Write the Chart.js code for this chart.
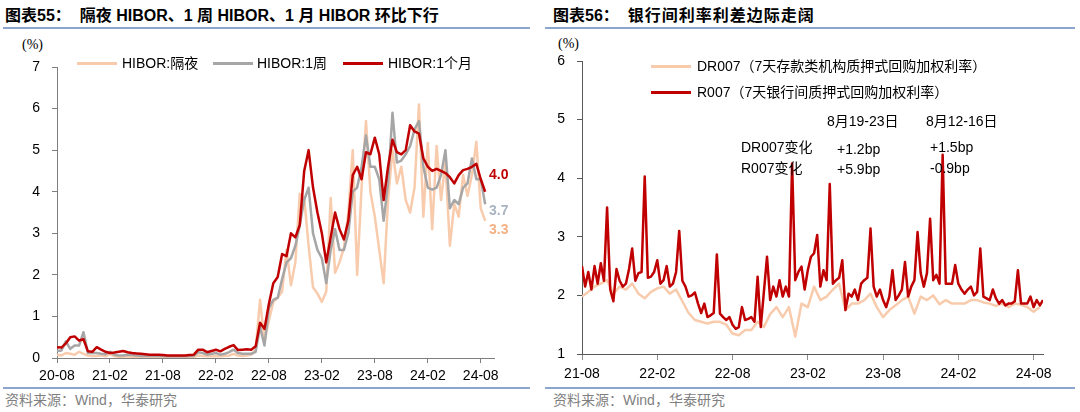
<!DOCTYPE html>
<html>
<head>
<meta charset="utf-8">
<script src="https://cdn.jsdelivr.net/npm/chart.js@4.4.1/dist/chart.umd.min.js"></script>
<style>
body { margin: 0; width: 1080px; height: 412px; background: #fff; position: relative; overflow: hidden;
  font-family: "Liberation Sans", "Noto Sans CJK SC", sans-serif; }
.t { position: absolute; white-space: nowrap; line-height: 16px; font-size: 14px; color: #000; }
.title { font-size: 16px; line-height: 18px; font-weight: bold; top: 7px; }
.rule { position: absolute; height: 2px; background: #8ba5cf; }
.src { color: #7f7f7f; top: 392px; }
.unit { font-family: "Liberation Serif", serif; }
.sw { position: absolute; height: 3px; width: 40px; }
.end { font-weight: bold; }
canvas { position: absolute; }
</style>
</head>
<body>
<div class="t title" style="left:5px">图表55：&nbsp;&nbsp;隔夜 HIBOR、1 周 HIBOR、1 月 HIBOR 环比下行</div>
<div class="t title" style="left:553px">图表56：&nbsp;&nbsp;<span style="letter-spacing:1px">银行间利率利差边际走阔</span></div>
<div class="rule" style="left:3px;width:527px;top:27px"></div>
<div class="rule" style="left:545px;width:530px;top:27px"></div>
<div class="rule" style="left:3px;width:527px;top:387px"></div>
<div class="rule" style="left:545px;width:530px;top:387px"></div>
<div class="t src" style="left:5px">资料来源：Wind，华泰研究</div>
<div class="t src" style="left:553px">资料来源：Wind，华泰研究</div>
<div class="t unit" style="left:22px;top:37px">(%)</div>
<div class="t unit" style="left:558px;top:36px">(%)</div>

<canvas id="left" width="540" height="345" style="left:0;top:40px"></canvas>
<canvas id="right" width="540" height="345" style="left:540px;top:40px"></canvas>

<div class="sw" style="left:77px;top:62px;background:#f8cbad"></div>
<div class="t" style="left:122px;top:55px">HIBOR:隔夜</div>
<div class="sw" style="left:213px;top:62px;background:#a6a6a6"></div>
<div class="t" style="left:257px;top:55px">HIBOR:1周</div>
<div class="sw" style="left:343px;top:62px;background:#c00000"></div>
<div class="t" style="left:388px;top:55px">HIBOR:1个月</div>

<div class="t end" style="left:489px;top:166px;color:#c00000">4.0</div>
<div class="t end" style="left:489px;top:202px;color:#aab3c2">3.7</div>
<div class="t end" style="left:489px;top:221px;color:#f4b183">3.3</div>

<div class="sw" style="left:651px;top:65px;background:#f8cbad"></div>
<div class="t" style="left:697px;top:58px">DR007（7天存款类机构质押式回购加权利率）</div>
<div class="sw" style="left:651px;top:91px;background:#c00000"></div>
<div class="t" style="left:697px;top:84px">R007（7天银行间质押式回购加权利率）</div>

<div class="t" style="left:827px;top:113px">8月19-23日</div>
<div class="t" style="left:926px;top:113px">8月12-16日</div>
<div class="t" style="left:741px;top:139px">DR007变化</div>
<div class="t" style="left:837px;top:141px">+1.2bp</div>
<div class="t" style="left:930px;top:139px">+1.5bp</div>
<div class="t" style="left:741px;top:160px">R007变化</div>
<div class="t" style="left:837px;top:161px">+5.9bp</div>
<div class="t" style="left:930px;top:160px">-0.9bp</div>

<script>
// left chart: half-month samples from 2020-08
const leftTickLabels = ['20-08', '21-02', '21-08', '22-02', '22-08', '23-02', '23-08', '24-02', '24-08'];
const hiborOvernight = [
  0.08, 0.06, 0.12, 0.1, 0.08, 0.15, 0.1, 0.06, 0.05, 0.05,
  0.06, 0.04, 0.1, 0.04, 0.03, 0.03, 0.04, 0.03, 0.03, 0.03,
  0.02, 0.02, 0.02, 0.02, 0.02, 0.02, 0.02, 0.02, 0.02, 0.02,
  0.03, 0.03, 0.06, 0.05, 0.04, 0.04, 0.05, 0.04, 0.05, 0.06,
  0.1, 0.06, 0.05, 0.06, 0.08, 0.2, 1.4, 0.4, 0.9, 1.35,
  1.45, 1.6, 2.6, 1.75, 2.3, 3.95, 3.85, 2.7, 1.7, 1.55,
  1.35, 1.6, 3.85, 2.05, 2.3, 2.65, 3.5, 5.0, 2.0, 4.1,
  5.7, 4.0, 3.4, 2.6, 1.8, 3.8, 5.0, 4.2, 4.6, 3.8,
  3.5, 4.1, 6.1, 3.4, 5.17, 3.1, 5.1, 3.8, 4.7, 2.7,
  3.7, 3.4, 4.4, 3.9, 4.4, 5.2, 3.6, 3.3
];
const hibor1w = [
  0.17, 0.18, 0.4, 0.22, 0.3, 0.3, 0.62, 0.12, 0.12, 0.12,
  0.1, 0.09, 0.15, 0.08, 0.06, 0.06, 0.08, 0.07, 0.06, 0.05,
  0.05, 0.05, 0.05, 0.05, 0.05, 0.04, 0.04, 0.04, 0.04, 0.04,
  0.05, 0.05, 0.14, 0.12, 0.08, 0.1, 0.12, 0.08, 0.1, 0.14,
  0.2, 0.12, 0.1, 0.1, 0.1, 0.15, 0.75, 0.3, 1.2, 1.4,
  1.45, 1.9, 2.3, 2.4, 2.7, 3.2, 3.8, 4.1, 3.0, 2.6,
  2.4, 1.8, 2.6, 3.1, 2.6, 2.6, 3.0, 4.0, 4.1, 4.6,
  5.35, 4.6, 4.6, 4.3, 3.3, 4.2, 5.9, 4.7, 4.75, 4.9,
  5.1, 5.5, 5.7, 4.6, 4.1, 4.05, 4.1, 4.4, 5.0, 3.6,
  3.8, 3.7, 4.1, 4.2, 4.8, 4.3, 4.3, 3.7
];
const hibor1m = [
  0.26, 0.25, 0.35, 0.5, 0.52, 0.42, 0.45, 0.16, 0.15, 0.26,
  0.2, 0.15, 0.12, 0.13, 0.15, 0.17, 0.14, 0.12, 0.11, 0.1,
  0.09, 0.08, 0.08, 0.08, 0.07, 0.06, 0.06, 0.06, 0.06, 0.06,
  0.07, 0.08, 0.2, 0.2, 0.14, 0.17, 0.2, 0.16, 0.22, 0.27,
  0.31, 0.19, 0.2, 0.21, 0.2, 0.28, 0.85, 0.7, 1.3, 1.8,
  1.95, 2.5, 2.45, 3.0, 2.9, 3.2, 4.5, 5.0, 4.1, 3.5,
  3.0, 2.3, 2.9, 3.5, 3.1, 2.85, 3.3, 4.4, 4.6, 4.3,
  4.95, 4.9, 5.3, 4.9, 3.8, 4.6, 5.25, 4.95, 4.9, 5.0,
  5.6, 5.45, 5.4, 4.8, 4.6, 4.5, 4.55, 4.5, 4.45, 4.35,
  4.2, 4.4, 4.52, 4.55, 4.6, 4.67, 4.3, 4.0
];

// right chart: R007 quarter-month samples, DR007 half-month samples from 2021-08
const rightTickLabels = ['21-08', '22-02', '22-08', '23-02', '23-08', '24-02', '24-08'];
const r007 = [
  2.5, 2.15, 2.4, 2.1, 2.5, 2.2, 2.55, 2.25,
  3.5, 2.1, 1.9, 2.45, 2.25, 2.15, 2.2, 2.45,
  2.8, 2.25, 2.38, 2.4, 4.03, 2.3, 2.32, 2.4,
  2.6, 2.2, 2.26, 2.5, 2.15, 2.2, 2.4, 3.1,
  2.25, 2.15, 1.98, 2.0, 2.05, 1.86, 1.7, 1.86,
  1.63, 1.66, 1.7, 2.7, 1.69, 1.63, 1.58, 1.63,
  1.5, 1.43, 1.46, 1.8, 1.58, 1.6, 1.63, 1.55,
  2.32, 1.46, 2.06, 2.66, 1.92, 2.15, 1.98, 2.26,
  1.98, 2.15, 1.98, 4.25, 2.26, 2.4, 2.49, 2.1,
  2.43, 2.66, 2.72, 3.03, 2.15, 2.43, 2.26, 3.9,
  2.2, 2.26, 2.3, 2.6, 1.75, 2.03, 1.98, 2.1,
  1.92, 2.2, 2.26, 2.3, 3.14, 2.15, 1.98, 2.1,
  1.92, 1.8, 1.98, 2.43, 1.92, 2.0, 2.1, 2.57,
  1.98, 2.15, 2.26, 3.08, 2.38, 2.15, 2.38, 3.31,
  2.26, 2.35, 2.2, 4.4, 2.2, 2.2, 2.2, 2.52,
  2.2, 2.1, 2.03, 2.1, 2.15, 2.0, 2.06, 2.8,
  1.98, 1.95, 1.92, 2.1, 1.95, 1.86, 1.92, 1.83,
  1.86, 1.86, 1.9, 2.43, 1.86, 1.86, 1.86, 1.98,
  1.8, 1.92, 1.83, 1.92
];
const dr007 = [
  1.98, 2.06, 2.15, 2.2, 2.26, 2.03, 2.15, 2.1, 2.2, 2.03,
  1.95, 2.06, 2.12, 2.15, 2.03, 2.1, 1.9, 1.7, 1.58, 1.55,
  1.52, 1.55, 1.55, 1.5, 1.35, 1.32, 1.41, 1.41, 1.55, 1.46,
  1.68, 1.8, 1.63, 1.8, 1.3, 1.86, 1.8, 2.15, 1.92, 1.98,
  2.1, 2.2, 1.75, 1.86, 1.86, 1.92, 2.03, 1.8, 1.63, 1.75,
  1.83, 1.92, 1.98, 1.69, 1.98, 1.92, 2.0, 1.85, 1.92, 1.86,
  1.86, 1.86, 1.92, 1.92, 1.88, 1.86, 1.82, 1.86, 1.8, 1.86,
  1.84, 1.8, 1.72, 1.8
];

// values -> points, x in months since the first tick
function toPoints(values, step) {
  return values.map((v, i) => ({ x: i * step, y: v }));
}

function line(label, values, step, color) {
  return {
    label,
    data: toPoints(values, step),
    borderColor: color,
    borderWidth: 2.5,
    pointRadius: 0,
    tension: 0,
    borderJoinStyle: 'round',
    fill: false
  };
}

function makeChart(id, datasets, cfg) {
  return new Chart(document.getElementById(id), {
    type: 'line',
    data: { datasets },
    options: {
      responsive: false,
      animation: false,
      events: [],
      layout: { padding: cfg.padding },
      plugins: { legend: { display: false }, tooltip: { enabled: false } },
      scales: {
        x: {
          type: 'linear',
          min: 0,
          max: cfg.xMax,
          afterBuildTicks: (s) => { s.ticks = cfg.xLabels.map((_, i) => ({ value: i * 6 })); },
          afterFit: (s) => { s.height = cfg.xHeight; },
          ticks: {
            callback: (v, i) => cfg.xLabels[i],
            color: '#000',
            font: { size: 14, family: 'Liberation Sans' },
            padding: cfg.xPad,
            maxRotation: 0,
            autoSkip: false
          },
          grid: { drawOnChartArea: false, drawTicks: true, tickLength: cfg.tickLen, color: cfg.tickColor },
          border: { color: cfg.axisColor, width: 1 }
        },
        y: {
          min: cfg.yMin,
          max: cfg.yMax,
          afterFit: (s) => { s.width = cfg.yWidth; },
          ticks: {
            stepSize: 1,
            color: '#000',
            font: { size: 14, family: 'Liberation Sans' },
            padding: 12
          },
          grid: { drawOnChartArea: false, drawTicks: true, tickLength: 5, color: cfg.axisColor },
          border: { color: cfg.axisColor, width: 1 }
        }
      }
    }
  });
}

makeChart('left', [
  line('HIBOR:1个月', hibor1m, 0.5, '#c00000'),
  line('HIBOR:1周', hibor1w, 0.5, '#a6a6a6'),
  line('HIBOR:隔夜', hiborOvernight, 0.5, '#f8cbad')
], {
  padding: { top: 27, right: 46, left: 0, bottom: 0 },
  xMax: 49.5, xLabels: leftTickLabels, xHeight: 27, xPad: 5, tickLen: 5,
  yMin: 0, yMax: 7, yWidth: 57,
  axisColor: '#7f7f7f', tickColor: '#7f7f7f'
});

makeChart('right', [
  line('R007', r007, 0.25, '#c00000'),
  line('DR007', dr007, 0.5, '#f8cbad')
], {
  padding: { top: 21, right: 37, left: 0, bottom: 0 },
  xMax: 36.75, xLabels: rightTickLabels, xHeight: 31, xPad: 6, tickLen: 6,
  yMin: 1, yMax: 6, yWidth: 42,
  axisColor: '#595959', tickColor: '#8c8c8c'
});
</script>
</body>
</html>
